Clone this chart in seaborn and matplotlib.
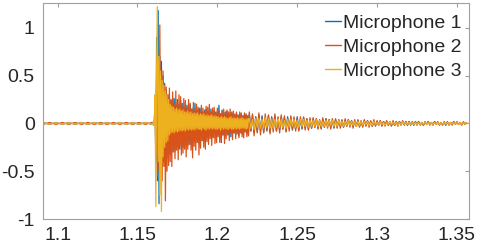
import numpy as np
import matplotlib
matplotlib.use('Agg')
import matplotlib.pyplot as plt
import seaborn as sns

# sample grid: quiet part (4 ms), burst (0.5 ms), tail (1 ms)
quiet_start, quiet_step = 1.091, 0.004
burst_start, burst_step = 1.160, 0.0005
tail_start, tail_step = 1.220, 0.001
scale = 0.01  # values below are in hundredths

labels = ['Microphone 1', 'Microphone 2', 'Microphone 3']
colors = ['#0072BD', '#D95319', '#EDB120']

# Microphone 1
mic1_quiet = [1, -1, 1, -1, 1, -1, 1, -1, 1, -1, 1, -1, 1, -1, 1, -1, 1, -1]
mic1_burst = [1, -2, 25, -40, 90, -60, 118, -84, 70, -50,
              65, -45, 50, -40, 42, -38, 35, -36, 30, -33,
              28, -32, 24, -30, 27, -22, 26, -29, 20, -26,
              25, -24, 20, -27, 24, -18, 21, -25, 17, -23,
              22, -18, 19, -23, 14, -19, 20, -22, 15, -20,
              17, -15, 21, -17, 13, -20, 15, -18, 16, -14,
              16, -18, 12, -17, 14, -13, 15, -15, 12, -16,
              14, -11, 15, -15, 12, -14, 13, -10, 12, -14,
              13, -12, 19, -13, 10, -20, 14, -12, 11, -13,
              12, -10, 13, -12, 9, -13, 11, -14, 10, -9,
              11, -10, 9, -12, 10, -8, 9, -13, 10, -9,
              10, -11, 8, -10, 10, -8, 9, -11, 8, -10]
mic1_tail = [10, -8, 9, -10, 7, -9, 9, -7, 8, -9, 6, -8, 8, -9, 7, -6, 8, -8, 6, -7,
             7, -6, 6, -8, 7, -5, 6, -7, 5, -6, 7, -7, 4, -6, 6, -5, 5, -6, 4, -5,
             5, -4, 5, -5, 3, -5, 4, -4, 5, -3, 4, -4, 3, -5, 4, -4, 4, -3, 3, -4,
             3, -3, 4, -2, 3, -3, 2, -3, 3, -3, 2, -3, 3, -2, 3, -2, 2, -3, 2, -2,
             2, -2, 3, -2, 2, -1, 2, -2, 2, -2, 1, -2, 2, -2, 2, -1, 2, -1, 2, -2,
             2, -1, 1, -2, 2, -1, 2, -1, 1, -2, 1, -1, 2, -1, 1, -1, 2, -1, 1, -1,
             1, -1, 1, -2, 1, -1, 1, -1, 2, -1, 1, -1, 1, -1, 1, -1, 1]

# Microphone 2
mic2_quiet = [-1, 1, -1, 1, -1, 1, -1, 1, -1, 1, -1, 1, -1, 1, -1, 1, -1, 1]
mic2_burst = [1, -2, 20, -30, 50, -55, 60, -50, 103, -45,
              50, -60, 55, -45, 40, -81, 38, -50, 30, -44,
              37, -40, 25, -45, 33, -30, 20, -37, 34, -28,
              22, -38, 30, -24, 28, -33, 18, -31, 26, -27,
              24, -35, 17, -27, 25, -22, 21, -28, 15, -36,
              22, -24, 14, -28, 20, -20, 17, -33, 12, -26,
              19, -18, 16, -25, 13, -27, 18, -19, 17, -22,
              20, -16, 12, -23, 16, -15, 17, -21, 11, -20,
              16, -14, 14, -20, 10, -18, 13, -12, 15, -21,
              11, -16, 14, -11, 12, -18, 15, -10, 12, -17,
              13, -10, 10, -16, 12, -11, 8, -15, 12, -10,
              11, -14, 8, -15, 11, -9, 10, -14, 7, -13]
mic2_tail = [12, -8, 10, -13, 7, -10, 11, -12, 6, -10, 10, -7, 9, -11, 6, -9, 10, -8, 7, -10,
             9, -6, 8, -9, 5, -8, 8, -6, 7, -8, 5, -8, 7, -5, 7, -7, 5, -7, 6, -5,
             6, -4, 5, -6, 4, -6, 6, -4, 5, -5, 4, -6, 5, -4, 5, -5, 3, -5, 4, -4,
             5, -3, 4, -4, 3, -5, 4, -3, 4, -4, 3, -4, 4, -3, 3, -4, 3, -3, 4, -3,
             3, -2, 3, -3, 2, -3, 3, -2, 2, -3, 3, -2, 2, -3, 2, -2, 3, -2, 2, -2,
             2, -2, 2, -1, 2, -2, 2, -2, 1, -2, 2, -1, 2, -2, 1, -2, 2, -1, 2, -2,
             1, -2, 2, -1, 2, -2, 1, -2, 2, -1, 2, -1, 1, -2, 2, -1, 1]

# Microphone 3
mic3_quiet = [1, -1, 1, -1, 1, -1, 1, -1, 1, -1, 1, -1, 1, -1, 1, -1, 1, -1]
mic3_burst = [1, -2, 30, -87, 60, 122, -40, 70, -75, 55,
              -92, 45, -35, 40, -25, 34, -20, 30, -18, 25,
              -12, 20, -10, 18, -9, 17, -10, 15, -8, 16,
              -9, 14, -8, 15, -7, 13, -8, 14, -7, 12,
              -8, 12, -6, 13, -7, 11, -6, 12, -7, 10,
              -6, 11, -7, 10, -5, 11, -6, 9, -6, 10,
              -7, 9, -5, 10, -6, 8, -7, 9, -5, 8,
              -6, 8, -5, 9, -6, 7, -5, 8, -6, 7,
              -6, 7, -5, 6, -7, 7, -5, 6, -6, 7,
              -5, 6, -6, 5, -6, 6, -5, 7, -6, 5,
              -6, 6, -5, 5, -6, 6, -5, 5, -6, 5,
              -5, 6, -5, 5, -5, 4, -6, 5, -5, 5]
mic3_tail = [5, -5, 4, -6, 5, -4, 5, -5, 4, -5, 6, -4, 5, -5, 4, -5, 4, -4, 5, -4,
             4, -4, 3, -5, 4, -4, 4, -3, 4, -4, 3, -4, 4, -3, 4, -3, 3, -4, 3, -3,
             3, -3, 4, -3, 3, -3, 2, -3, 3, -3, 3, -2, 3, -3, 2, -3, 3, -2, 2, -3,
             2, -2, 3, -2, 2, -2, 2, -3, 2, -2, 2, -2, 2, -1, 2, -2, 1, -2, 2, -1,
             1, -2, 2, -1, 1, -2, 1, -1, 2, -1, 1, -1, 1, -2, 1, -1, 2, -1, 1, -1,
             1, -1, 1, -1, 1, -1, 1, -1, 1, -1, 1, -1, 1, -1, 1, -1, 1, -1, 1, -1,
             1, -1, 1, -1, 1, -1, 1, -1, 1, -1, 1, -1, 1, -1, 1, -1, 1]

xticks = [1.1, 1.15, 1.2, 1.25, 1.3, 1.35]
xtick_labels = ['1.1', '1.15', '1.2', '1.25', '1.3', '1.35']
yticks = [-1, -0.5, 0, 0.5, 1]
ytick_labels = ['-1', '-0.5', '0', '0.5', '1']


def sample_times(quiet, burst, tail):
    return np.concatenate([quiet_start + quiet_step * np.arange(len(quiet)),
                           burst_start + burst_step * np.arange(len(burst)),
                           tail_start + tail_step * np.arange(len(tail))])


series = [(mic1_quiet, mic1_burst, mic1_tail),
          (mic2_quiet, mic2_burst, mic2_tail),
          (mic3_quiet, mic3_burst, mic3_tail)]

sns.set_style('white')
plt.rcParams['font.family'] = ['Liberation Sans', 'DejaVu Sans']

fig = plt.figure(figsize=(4.8, 2.5), dpi=100)
ax = fig.add_axes([0.09, 0.124, 0.887, 0.864])

for (q, b, tl), lab, col in zip(series, labels, colors):
    t = sample_times(q, b, tl)
    v = np.array(q + b + tl) * scale
    sns.lineplot(x=t, y=v, ax=ax, color=col, linewidth=0.9, label=lab,
                 estimator=None, sort=False)

ax.set_xlim(1.091, 1.3575)
ax.set_ylim(-1.0, 1.26)
ax.set_xticks(xticks)
ax.set_xticklabels(xtick_labels)
ax.set_yticks(yticks)
ax.set_yticklabels(ytick_labels)
ax.tick_params(direction='in', length=3, width=0.8, color='#a0a0a0',
               labelsize=14, labelcolor='#262626', top=True, right=True,
               pad=6)
for s in ax.spines.values():
    s.set_color('#a0a0a0')
    s.set_linewidth(0.8)

leg = ax.legend(loc='upper right', bbox_to_anchor=(0.99, 0.96), frameon=False,
                fontsize=14, handlelength=0.8, handletextpad=0.12,
                labelspacing=0.32, borderaxespad=0.0, borderpad=0.15)
for h in leg.get_lines():
    h.set_linewidth(1.0)

fig.savefig('out.png', dpi=100)
